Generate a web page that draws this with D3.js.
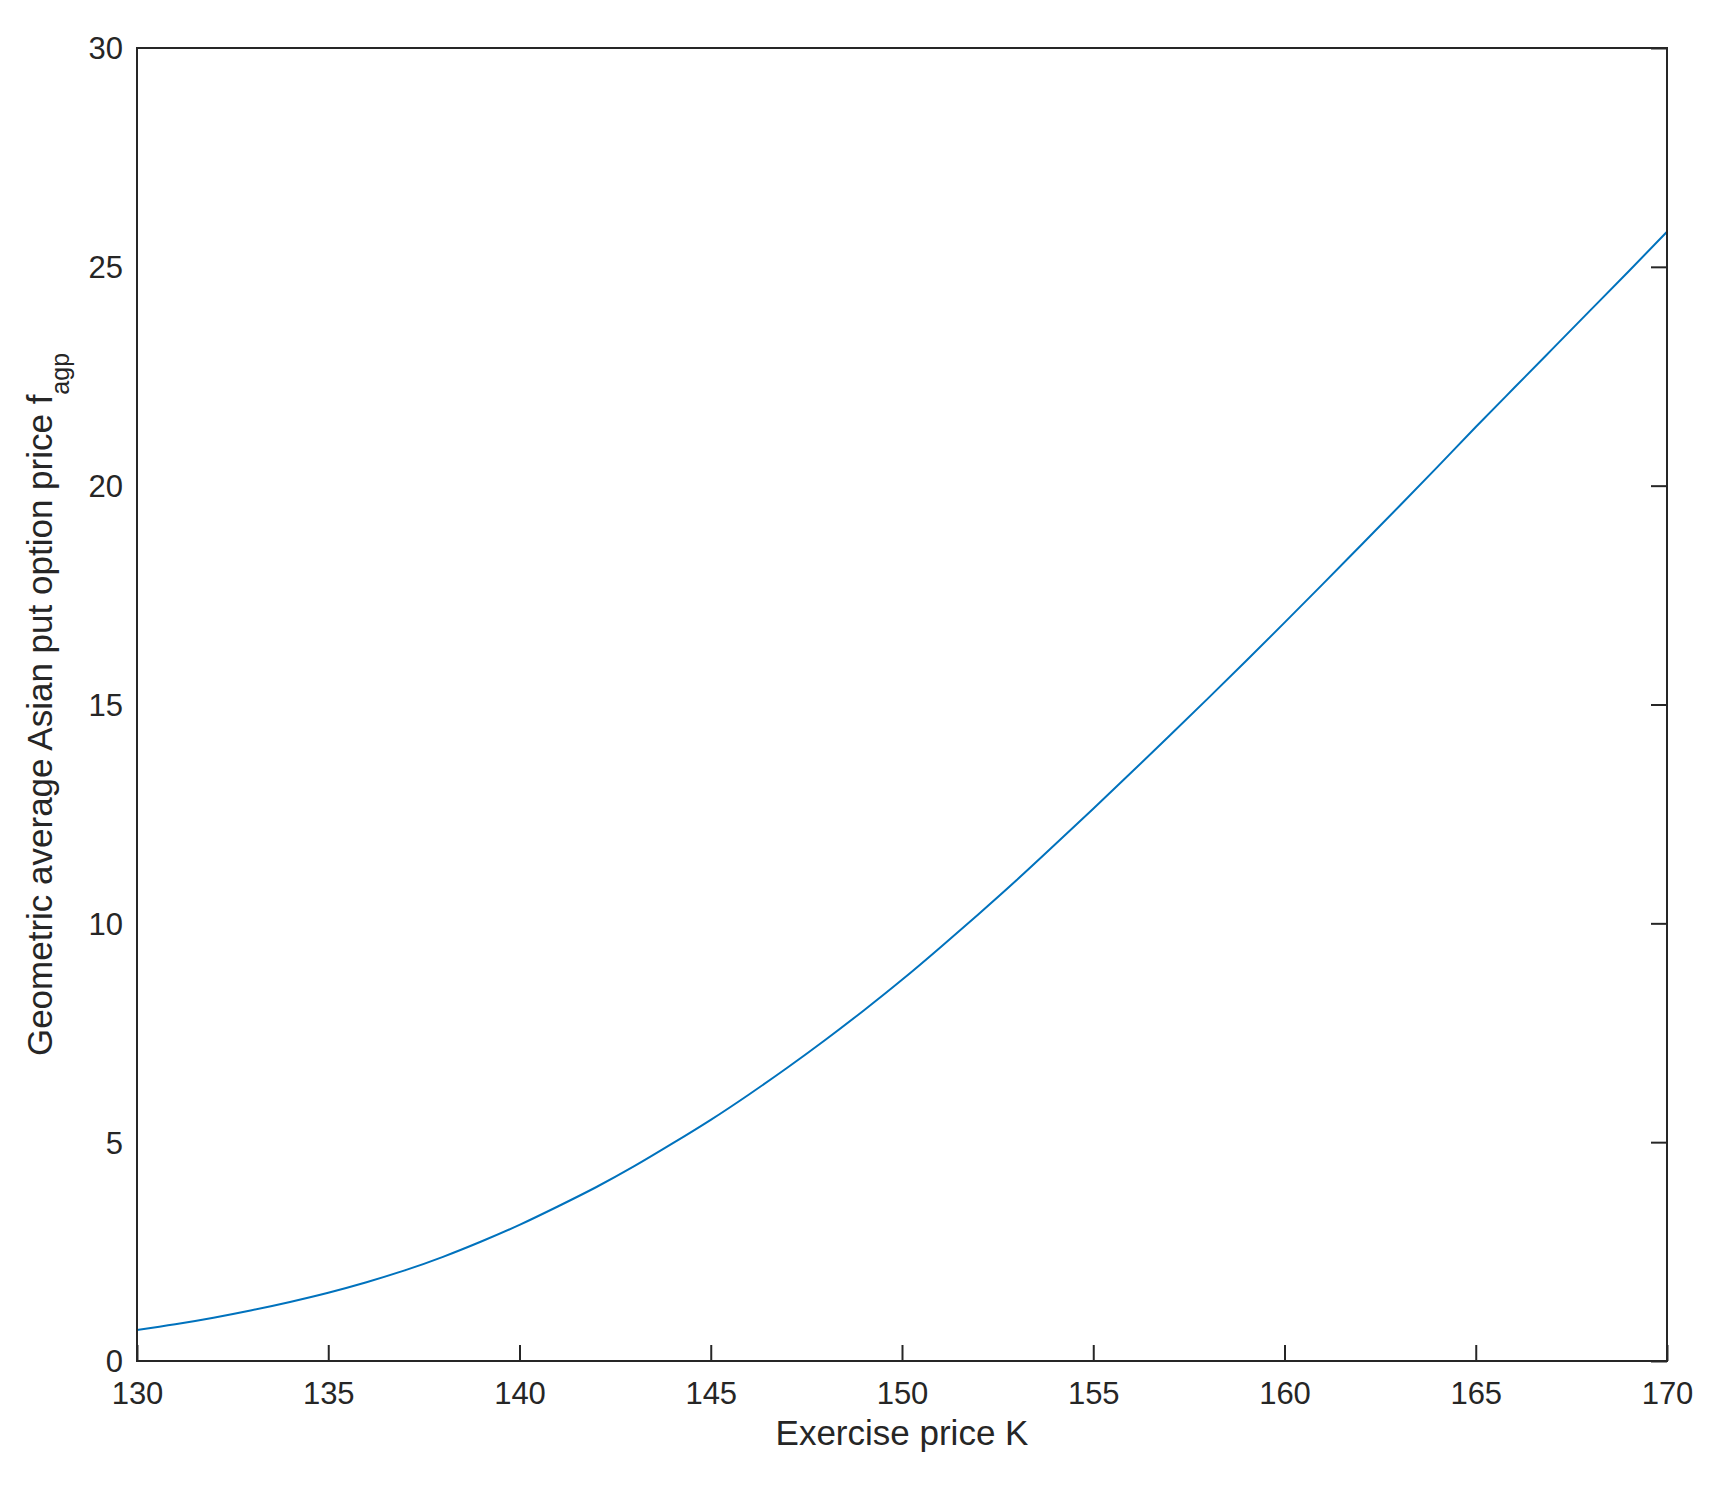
<!DOCTYPE html>
<html>
<head>
<meta charset="utf-8">
<script src="https://cdn.jsdelivr.net/npm/d3@7"></script>
<style>
  body { margin: 0; background: #fff; }
  svg { display: block; }
</style>
</head>
<body>
<svg id="chart" width="1720" height="1488"></svg>
<script>
// exercise prices K and the read-off put prices
const strikes = [130, 131, 132, 133, 134, 135, 136, 137, 138, 139, 140,
                 141, 142, 143, 144, 145, 146, 147, 148, 149, 150,
                 151, 152, 153, 154, 155, 156, 157, 158, 159, 160,
                 161, 162, 163, 164, 165, 166, 167, 168, 169, 170]
const prices = [0.71, 0.84, 0.99, 1.16, 1.35, 1.56, 1.80, 2.07, 2.38, 2.73, 3.11,
                3.53, 3.97, 4.45, 4.97, 5.51, 6.09, 6.70, 7.34, 8.01, 8.71,
                9.45, 10.21, 10.99, 11.80, 12.62, 13.45, 14.29, 15.14, 16.00, 16.87,
                17.75, 18.64, 19.53, 20.43, 21.34, 22.23, 23.12, 24.01, 24.90, 25.80]
const xTicks = [130, 135, 140, 145, 150, 155, 160, 165, 170]
const yTicks = [0, 5, 10, 15, 20, 25, 30]

const svg = d3.select("#chart")
const margin = {top: 48, right: 53, bottom: 127, left: 137}
const width = 1720 - margin.left - margin.right,
    height = 1488 - margin.top - margin.bottom

const axisColor = "#262626"
const font = "Arial, 'Liberation Sans', Helvetica, sans-serif"

const g = svg.append("g")
    .attr("transform", `translate(${margin.left},${margin.top})`)

const x = d3.scaleLinear().domain([130, 170]).range([0, width])
const y = d3.scaleLinear().domain([0, 30]).range([height, 0])

// the curve
const data = strikes.map((k, i) => [k, prices[i]])
g.append("path")
    .datum(data)
    .attr("fill", "none")
    .attr("stroke", "#0072BD")
    .attr("stroke-width", 2)
    .attr("d", d3.line()
        .x(d => x(d[0]))
        .y(d => y(d[1]))
        .curve(d3.curveNatural))

// ticks pointing inward (bottom and right only, as in the original)
function styleAxis(sel) {
    sel.select(".domain").remove()
    sel.selectAll(".tick line").attr("stroke", axisColor).attr("stroke-width", 2)
    sel.selectAll(".tick text")
        .attr("fill", axisColor)
        .style("font-family", font)
        .style("font-size", "31px")
}

const xBottom = g.append("g")
    .attr("transform", `translate(0,${height})`)
    .call(d3.axisBottom(x).tickValues(xTicks).tickSizeInner(-16).tickSizeOuter(0))
styleAxis(xBottom)
xBottom.selectAll(".tick text").attr("y", 43).attr("dy", 0)

const yLeft = g.append("g")
    .call(d3.axisLeft(y).tickValues(yTicks).tickSize(0))
styleAxis(yLeft)
yLeft.selectAll(".tick text").attr("x", -14).attr("dy", "0.35em")

const yRight = g.append("g")
    .attr("transform", `translate(${width},0)`)
    .call(d3.axisRight(y).tickValues(yTicks).tickSizeInner(-16).tickSizeOuter(0).tickFormat(""))
styleAxis(yRight)

// box
g.append("rect")
    .attr("width", width)
    .attr("height", height)
    .attr("fill", "none")
    .attr("stroke", axisColor)
    .attr("stroke-width", 2)

// axis labels
g.append("text")
    .attr("x", width / 2)
    .attr("y", height + 84)
    .attr("text-anchor", "middle")
    .attr("fill", axisColor)
    .style("font-family", font)
    .style("font-size", "35px")
    .text("Exercise price K")

const yLabel = g.append("text")
    .attr("transform", `translate(${52 - margin.left},${height / 2}) rotate(-90)`)
    .attr("text-anchor", "middle")
    .attr("fill", axisColor)
    .style("font-family", font)
    .style("font-size", "35px")
yLabel.append("tspan").text("Geometric average Asian put option price f")
yLabel.append("tspan")
    .attr("dy", 17)
    .style("font-size", "25px")
    .text("agp")
</script>
</body>
</html>
